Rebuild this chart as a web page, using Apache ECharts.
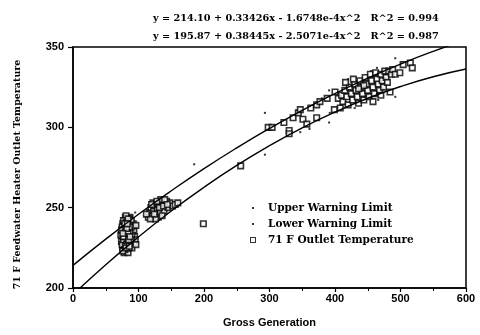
<!DOCTYPE html>
<html>
<head>
<meta charset="utf-8">
<script src="https://cdn.jsdelivr.net/npm/echarts@6/dist/echarts.min.js"></script>
<style>
  html, body { margin: 0; padding: 0; background: #fff; }
  #chart { width: 480px; height: 335px; }
</style>
</head>
<body>
<div id="chart"></div>
<script>
// regression curves (x = gross generation)
const curveX = [0, 50, 100, 150, 200, 250, 300, 350, 400, 450, 500, 550, 600];
const upperCurve = [214.1, 230.4, 245.9, 260.5, 274.3, 287.2, 299.3, 310.6, 321.0, 330.6, 339.4, 347.3, 354.4];
const lowerCurve = [195.9, 214.5, 231.8, 247.9, 262.7, 276.3, 288.6, 299.7, 309.5, 318.1, 325.4, 331.5, 336.3];

// small dots
const upperDots = [
  [95, 247], [185, 277], [293, 309], [347, 297], [361, 299], [391, 323], [464, 337],
  [474, 324], [492, 343], [380, 318], [420, 330], [440, 328], [455, 335]
];
const lowerDots = [
  [293, 283], [392, 309], [466, 317], [467, 319], [492, 319], [391, 303], [330, 296],
  [430, 312], [410, 314], [450, 320], [88, 226], [120, 245]
];

// 71 F outlet temperature (squares)
const outletTemp = [
  // ~80 MW cluster
  [78, 222], [80, 223], [82, 224], [76, 225], [79, 226], [83, 226], [77, 227], [81, 228],
  [85, 228], [78, 229], [80, 230], [84, 230], [76, 231], [82, 232], [86, 232], [79, 233],
  [83, 234], [77, 235], [81, 236], [85, 236], [78, 237], [88, 237], [80, 238], [84, 239],
  [76, 240], [82, 240], [86, 241], [79, 242], [83, 243], [87, 244], [80, 244], [93, 236],
  [94, 232], [93, 228], [92, 240], [95, 230], [73, 233], [88, 226], [84, 222], [86, 243],
  [81, 245], [78, 239], [90, 225], [74, 229], [90, 233],
  [75, 227], [77, 230], [79, 224], [81, 233], [83, 237], [85, 225], [87, 229], [89, 242],
  [75, 238], [77, 242], [79, 236], [81, 241], [83, 229], [85, 233], [87, 235], [89, 230],
  [74, 236], [76, 223], [88, 239], [90, 238], [96, 227], [96, 239],
  [78, 232], [80, 235], [82, 227], [84, 234], [86, 238], [80, 226], [82, 237], [84, 243],
  [77, 232], [85, 230], [79, 240], [83, 240], [87, 232], [81, 225], [76, 234], [86, 226],
  // ~130 MW cluster
  [115, 244], [117, 247], [119, 250], [121, 245], [123, 248], [125, 251], [127, 246],
  [129, 249], [131, 252], [133, 247], [135, 250], [137, 253], [139, 248], [141, 251],
  [143, 254], [130, 244], [126, 243], [136, 245], [145, 250], [148, 253], [152, 251],
  [156, 252], [160, 253], [118, 243], [122, 253], [134, 255], [140, 255], [112, 246],
  [120, 252], [124, 246], [128, 254], [132, 250], [138, 251], [144, 252],
  // isolated
  [199, 240], [256, 276],
  // upper range
  [298, 300], [304, 300], [322, 303], [330, 298], [330, 296], [336, 306], [344, 309],
  [347, 311], [351, 305], [357, 302], [372, 306], [363, 312], [372, 314], [377, 316],
  [388, 318], [399, 311], [400, 322], [405, 318],
  [410, 320], [412, 316], [415, 323], [418, 319], [420, 314], [422, 325], [425, 321],
  [427, 317], [430, 327], [432, 323], [434, 319], [436, 315], [438, 329], [440, 325],
  [442, 321], [444, 317], [446, 331], [448, 327], [450, 323], [452, 319], [454, 333],
  [456, 329], [458, 325], [460, 321], [462, 334], [464, 330], [466, 327], [468, 323],
  [470, 333], [472, 329], [474, 325], [476, 335], [478, 331], [480, 328], [482, 335],
  [486, 333], [488, 336], [428, 330], [444, 326], [458, 316], [470, 320], [484, 322],
  [492, 333], [499, 334], [504, 339], [515, 340], [518, 337], [408, 312], [416, 328], [436, 324]
];

const titleLines = [
  "y = 214.10 + 0.33426x - 1.6748e-4x^2   R^2 = 0.994",
  "y = 195.87 + 0.38445x - 2.5071e-4x^2   R^2 = 0.987"
];

const serif = "'DejaVu Serif', 'Liberation Serif', serif";
const sans = "'Liberation Sans', Arial, sans-serif";

const dotIcon = "path://M0 0L13 6L0 0Z M2 2h2v2h-2Z";
const squareIcon = "path://M0 0h6v6h-6Z M1 1v4h4v-4Z M0 0L13 6L0 0Z";

const chart = echarts.init(document.getElementById("chart"), null, { renderer: "canvas" });
chart.setOption({
  animation: false,
  title: {
    text: titleLines.join("\n"),
    left: 148,
    top: 4,
    textStyle: { fontFamily: serif, fontWeight: "bold", fontSize: 9.7, lineHeight: 18, color: "#000" }
  },
  grid: {
    left: 73, right: 14, top: 47, bottom: 47,
    show: true, borderColor: "#000", borderWidth: 1.5, backgroundColor: "transparent"
  },
  legend: {
    orient: "vertical",
    left: 245,
    top: 196,
    itemWidth: 13,
    itemHeight: 6,
    itemGap: 2,
    textStyle: { fontFamily: serif, fontWeight: "bold", fontSize: 10.5, lineHeight: 14, color: "#000" },
    data: [
      { name: "Upper Warning Limit", icon: dotIcon, itemStyle: { color: "#000", borderWidth: 0 } },
      { name: "Lower Warning Limit", icon: dotIcon, itemStyle: { color: "#000", borderWidth: 0 } },
      { name: "71 F Outlet Temperature", icon: squareIcon, itemStyle: { color: "#000", borderWidth: 0 } }
    ]
  },
  xAxis: {
    type: "value",
    min: 0, max: 600, interval: 100,
    name: "Gross Generation",
    nameLocation: "middle",
    nameGap: 29,
    nameTextStyle: { fontFamily: sans, fontWeight: "bold", fontSize: 11, color: "#000" },
    axisLine: { lineStyle: { color: "#000", width: 1.5 } },
    axisTick: { show: true, length: 4, lineStyle: { color: "#000", width: 1.2 } },
    minorTick: { show: true, splitNumber: 2, length: 3, lineStyle: { color: "#000", width: 1 } },
    axisLabel: { margin: 5, fontFamily: sans, fontWeight: "bold", fontSize: 11, color: "#000" },
    splitLine: { show: false }
  },
  yAxis: {
    type: "value",
    min: 200, max: 350, interval: 50,
    name: "71 F Feedwater Heater Outlet Temperature",
    nameLocation: "middle",
    nameGap: 50,
    nameTextStyle: { fontFamily: serif, fontWeight: "bold", fontSize: 9.5, color: "#000", padding: [0, 14, 0, 0] },
    axisLine: { lineStyle: { color: "#000", width: 1.5 } },
    axisTick: { show: true, length: 5, lineStyle: { color: "#000", width: 1.2 } },
    axisLabel: { margin: 9, fontFamily: sans, fontWeight: "bold", fontSize: 11, color: "#000" },
    splitLine: { show: false }
  },
  series: [
    {
      name: "Upper Warning Limit",
      type: "scatter",
      data: upperDots,
      symbol: "rect",
      symbolSize: 2,
      itemStyle: { color: "#000" }
    },
    {
      name: "Lower Warning Limit",
      type: "scatter",
      data: lowerDots,
      symbol: "rect",
      symbolSize: 2,
      itemStyle: { color: "#000" }
    },
    {
      name: "71 F Outlet Temperature",
      type: "scatter",
      data: outletTemp,
      symbol: "rect",
      symbolSize: 5.5,
      itemStyle: { color: "#fff", borderColor: "#000", borderWidth: 1.6 }
    },
    {
      name: "Upper fit",
      type: "line",
      data: curveX.map((x, i) => [x, upperCurve[i]]),
      smooth: true,
      showSymbol: false,
      clip: true,
      lineStyle: { color: "#000", width: 1.4 }
    },
    {
      name: "Lower fit",
      type: "line",
      data: curveX.map((x, i) => [x, lowerCurve[i]]),
      smooth: true,
      showSymbol: false,
      clip: true,
      lineStyle: { color: "#000", width: 1.4 }
    }
  ]
});
</script>
</body>
</html>
